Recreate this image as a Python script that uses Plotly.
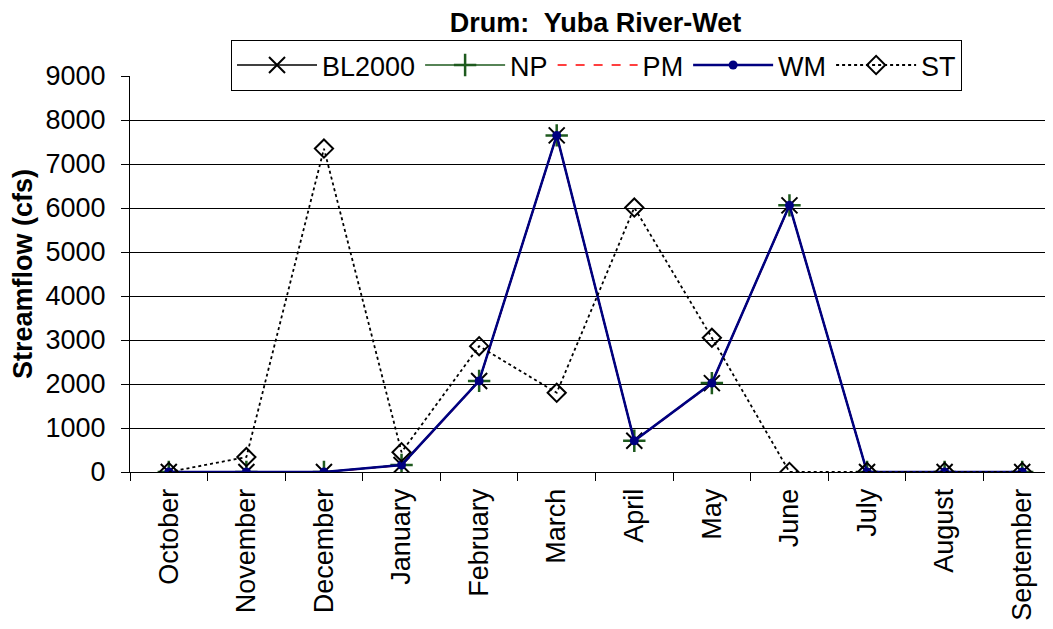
import plotly.graph_objects as go

months = ["October", "November", "December", "January", "February", "March",
          "April", "May", "June", "July", "August", "September"]

bl2000 = [0, 0, 0, 160, 2070, 7650, 710, 2020, 6060, 0, 0, 0]
np_flow = [0, 0, 0, 160, 2070, 7650, 710, 2020, 6060, 0, 0, 0]
pm = [0, 0, 0, 150, 2060, 7640, 700, 2010, 6050, 0, 0, 0]
wm = [0, 0, 0, 160, 2070, 7650, 710, 2020, 6060, 0, 0, 0]
st = [0, 340, 7350, 450, 2860, 1800, 6010, 3050, 0, 0, 0, 0]

fig = go.Figure()
fig.add_trace(go.Scatter(x=months, y=bl2000, name="BL2000", mode="lines+markers",
                         line=dict(color="black", width=1.5),
                         marker=dict(symbol="x-thin", size=16, line=dict(color="black", width=2))))
fig.add_trace(go.Scatter(x=months, y=np_flow, name="NP", mode="lines+markers",
                         line=dict(color="#1e5a1e", width=1.5),
                         marker=dict(symbol="cross-thin", size=16, line=dict(color="#1e5a1e", width=2.5))))
fig.add_trace(go.Scatter(x=months, y=pm, name="PM", mode="lines",
                         line=dict(color="red", width=1.5, dash="dash")))
fig.add_trace(go.Scatter(x=months, y=wm, name="WM", mode="lines+markers",
                         line=dict(color="#000080", width=2.5),
                         marker=dict(symbol="circle", size=9, color="#000080")))
fig.add_trace(go.Scatter(x=months, y=st, name="ST", mode="lines+markers",
                         line=dict(color="black", width=1.8, dash="dot"),
                         marker=dict(symbol="diamond-open", size=14, color="black",
                                     line=dict(color="black", width=2))))

fig.update_layout(
    width=1053, height=629,
    margin=dict(l=122, r=0, t=68, b=165),
    paper_bgcolor="white", plot_bgcolor="white",
    font=dict(family="Arial, Liberation Sans, sans-serif", size=27, color="black"),
    title=dict(text="<b>Drum:&nbsp; Yuba River-Wet</b>", x=0.5, xref="paper", xanchor="center",
               y=0.977, yanchor="middle", font=dict(size=27)),
    showlegend=True,
    legend=dict(orientation="h", x=0.1085, xanchor="left", y=1.091, yanchor="top",
                bordercolor="black", borderwidth=1, bgcolor="white",
                font=dict(size=27), itemwidth=80, tracegroupgap=0),
    xaxis=dict(type="category", range=[-0.5, 11.5], tickson="boundaries",
               ticks="outside", ticklen=8, tickcolor="black", showgrid=False,
               showline=True, linecolor="black", linewidth=1, tickangle=-90,
               tickfont=dict(size=27), ticklabelstandoff=5, automargin=False),
    yaxis=dict(range=[0, 9000], tickvals=list(range(0, 9001, 1000)),
               ticks="outside", ticklen=8, tickcolor="black",
               showgrid=True, gridcolor="black", gridwidth=1,
               showline=True, linecolor="black", linewidth=1, zeroline=False,
               title=dict(text="<b>Streamflow (cfs)</b>", font=dict(size=27), standoff=13),
               tickfont=dict(size=27), ticklabelstandoff=10, automargin=False),
)

fig.write_html("out.html")
